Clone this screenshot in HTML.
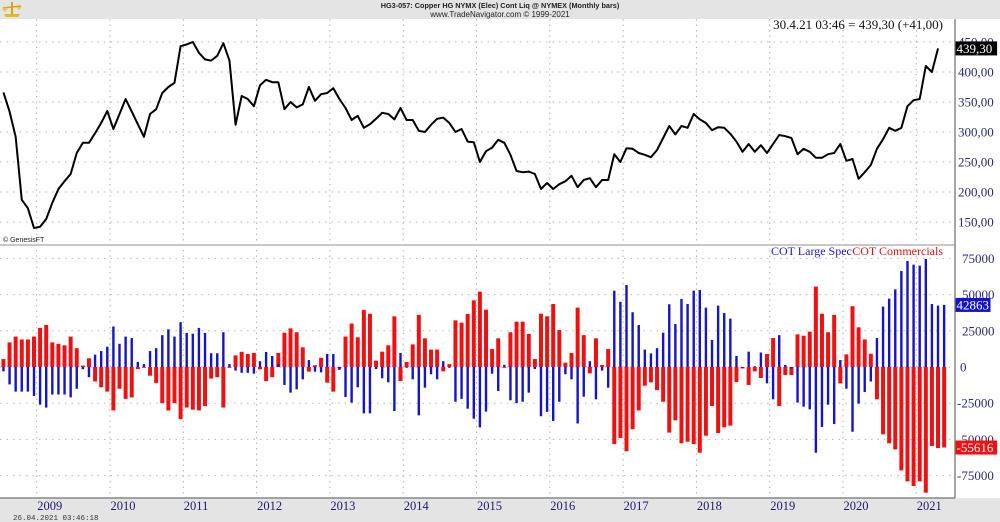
<!DOCTYPE html>
<html><head><meta charset="utf-8">
<style>
html,body{margin:0;padding:0;background:#fff;}
body{width:1000px;height:522px;overflow:hidden;position:relative;font-family:"Liberation Sans",sans-serif;}
svg{position:absolute;left:0;top:0;}
</style></head>
<body>
<svg id="chart" width="1000" height="522" viewBox="0 0 1000 522">
  <rect x="0" y="0" width="1000" height="19" fill="#e4e4e4"/>
  <rect x="0" y="498" width="1000" height="24" fill="#e4e4e4"/>
  <g>
    <path d="M4 14 L20 14 L18 17 L6 17 Z" fill="#e8b820"/>
    <rect x="11" y="2" width="2" height="12" fill="#d9a514"/>
    <path d="M3 8 L21 6" stroke="#d9a514" stroke-width="1.5"/>
    <path d="M2 9 L5 12 L8 9 Z M16 7 L19 10 L22 7 Z" fill="#f0c83a"/>
  </g>
  <text x="500" y="8" text-anchor="middle" font-size="7.3" font-weight="bold" fill="#222">HG3-057:  Copper HG NYMX (Elec) Cont Liq @ NYMEX  (Monthly bars)</text>
  <text x="500" y="17" text-anchor="middle" font-size="8" fill="#222">www.TradeNavigator.com © 1999-2021</text>
  <g id="grid"></g>
  <line x1="0" y1="245" x2="955" y2="245" stroke="#c8c8c8" stroke-width="2"/>
  <line x1="955" y1="19" x2="955" y2="498" stroke="#888" stroke-width="1.5"/>
  <line x1="0" y1="498" x2="955" y2="498" stroke="#888" stroke-width="1.5"/>
  <g id="bars"></g>
  <path id="priceLine" fill="none" stroke="#000" stroke-width="2" stroke-linejoin="round"/>
  <g id="axes"></g>
  <text x="943" y="29" text-anchor="end" font-family="Liberation Serif" font-size="13" fill="#111">30.4.21 03:46 = 439,30 (+41,00)</text>
  <text x="3" y="242" font-size="7" fill="#222">© GenesisFT</text>
  <text x="771" y="255" font-family="Liberation Serif" font-size="12" fill="#1a1acc">COT Large Spec</text>
  <text x="943" y="255" text-anchor="end" font-family="Liberation Serif" font-size="12" fill="#dd1111">COT Commercials</text>
  <text x="13" y="520" font-family="Liberation Mono" font-size="7.5" fill="#333">26.04.2021 03:46:18</text>
</svg>
<script>
const years = ["2009","2010","2011","2012","2013","2014","2015","2016","2017","2018","2019","2020","2021"];
const priceTicks = [150,200,250,300,350,400,450];
const cotTicks = [75000,50000,25000,0,-25000,-50000,-75000];
const prices = [366,334,292,187,173,140,142,155,182,205,218,230,265,282,282,298,315,335,305,330,
355,334,313,292,330,338,365,375,382,443,446,450,432,421,419,427,448,419,312,360,
355,343,378,387,383,383,338,350,341,346,375,352,363,365,373,355,340,320,327,307,
313,322,332,330,321,340,320,320,302,300,312,322,324,315,300,305,284,283,250,268,
274,287,282,262,235,233,234,230,205,215,205,213,218,227,208,220,223,208,220,220,
263,250,273,272,265,262,258,270,290,310,296,310,307,330,321,315,303,308,307,297,
284,267,280,267,278,265,280,295,293,290,263,272,267,257,257,263,265,280,252,255,
222,233,245,272,288,307,302,307,343,353,355,410,400,439.3];
const largeSpec = [-3,-12,-17,-17,-17,-20,-26,-28,-19,-19,-19,-21,-15,-1.5,-7,8.5,11,14,28,16,
21,20,3.5,2,11,13,22,26,21,31,23.5,23,27,23.5,9.5,9.5,24,2,-2.5,-4,
-4,-4.6,4,10.4,7.6,2,-12.4,-17.7,-15.4,-8.5,4.8,-3.2,-3.7,9,9,-2,-20.7,-24.6,-14,-32,
-32,-1.4,-7.8,-10.6,-30.4,9.7,0,-8.5,-33.4,-14.3,-5,-8.5,4,0,-24,-22,-28.8,-35.7,-41.7,-30.8,
-4.6,-16.6,1.5,-23,-25,-24,-17.7,-1.4,-34,-31,-37.3,-24,-5,-8.5,-39,-20.5,4,-22.3,-2.5,-14.3,
52.7,45,56.6,37.8,29,12,9.4,13,23.7,43.3,29.7,47,43.5,52.7,53.2,41,18.6,42.4,37.3,33.4,
7.6,0,10.6,0.5,10,-11.3,-22.3,22,1.4,-1,-24.6,-27.4,-29.2,-59.2,-41.4,-26,-39.4,4.8,-15,-44.7,
-25.3,-17.3,-10,20,41.7,47.2,53.6,66.3,73.2,70.7,70,74.6,43.5,42.4,42.863];
const commercials = [5.5,17,21,19,19,21,27,29,17,16,15,21,13,1,6,-10,-14,-17,-30,-15,
-22,-21,-1.5,0,-6,-11,-25,-30,-25,-36,-28,-29.5,-30,-27,-8,-7,-28,-0.5,8,10.5,
9,9.7,-1.6,-9.7,-7,9.7,23.7,26.7,24,13.6,-3.2,1.2,6.4,-10.8,-17,-1,21,30,20.5,39.4,
36.8,4.4,10.6,15,35,-9.7,3.5,15.6,36,19.8,12,12,-3,2,32.2,30.6,36.6,46,52,39.6,
12.4,19.8,0,24,31.3,31.3,22.8,5.5,36.8,35,43.5,25.5,3,9.7,41,22,-4.4,19.8,1.4,12.4,
-53.2,-49,-58.2,-43,-30,-12.9,-10.6,-16,-24,-45.3,-36.8,-52.7,-51.6,-53.2,-59.2,-47.4,-27,-45.6,-41.7,-40.5,
-10.4,-1,-12.4,-3,-7.6,9,20,-27,-5.5,-5.5,22.5,21.6,24.4,55.5,36.8,24,36,-11.3,8.7,42,
27.4,19,9.2,-22.3,-46.5,-52.7,-56.9,-71.4,-79,-82.2,-79,-86.8,-54.6,-56,-55.616];

const NS="http://www.w3.org/2000/svg";
const MONTH = 73.3/12;
function xAt(i){ return 3.45 + i*MONTH; }
function yearX(k){ return 36.7 + k*73.3; }
function yPrice(v){ return 42 + (450 - v)*0.6; }
function yCot(v){ return 367 - v/25000*36.2; }
function el(tag, attrs, parent){ const e=document.createElementNS(NS,tag); for(const k in attrs) e.setAttribute(k, attrs[k]); parent.appendChild(e); return e; }

const grid=document.getElementById('grid'), axes=document.getElementById('axes'), bars=document.getElementById('bars');
years.forEach((y,k)=>{
  const x=yearX(k);
  const g=el('line',{x1:x,y1:19,x2:x,y2:498,stroke:'#b0b0b0','stroke-dasharray':'1.5,4'},grid);
  
  
  const t=el('text',{x:x+0.5,y:510,'font-family':'Liberation Serif','font-size':'12.5',fill:'#1a1a6e'},axes);
  t.textContent=y;
  
  
});
priceTicks.forEach(v=>{
  const y=yPrice(v);
  const g=el('line',{x1:0,y1:y,x2:955,y2:y,stroke:'#b8b8b8','stroke-dasharray':'1.5,5'},grid);
  
  
  const t=el('text',{x:958,y:y+4.5,'font-family':'Liberation Serif','font-size':'13',fill:'#2a2a7a'},axes);
  t.textContent=v.toFixed(2).replace('.',',');
  
  
});
cotTicks.forEach(v=>{
  const y=yCot(v);
  const g=el('line',{x1:0,y1:y,x2:955,y2:y,stroke:'#b8b8b8','stroke-dasharray':'1.5,5'},grid);
  
  
  const t=el('text',{x:v<0?957:(v===0?960:962),y:y+4.5,'font-family':'Liberation Serif','font-size':'13',fill:'#2a2a7a'},axes);
  t.textContent=String(v);
  
  
});
const y0=yCot(0);
commercials.forEach((v,i)=>{
  const y=yCot(v*1000);
  const r=el('rect',{x:xAt(i)-2,y:Math.min(y,y0),width:4,height:Math.max(0.8,Math.abs(y-y0)),fill:'#ee1111'},bars);
  
  
});
largeSpec.forEach((v,i)=>{
  const y=yCot(v*1000);
  const r=el('rect',{x:xAt(i)-1.2,y:Math.min(y,y0),width:2.4,height:Math.max(0.8,Math.abs(y-y0)),fill:'#1414c8'},bars);
  
  
});
document.getElementById('priceLine').setAttribute('d', prices.map((v,i)=>(i?'L':'M')+xAt(i).toFixed(2)+' '+yPrice(v).toFixed(2)).join(' '));

function tag(val, y, bg, name){
  const r=el('rect',{x:955.5,y:y-7,width:String(val).length*6.6+2,height:14,fill:bg},axes);
  
  
  const t=el('text',{x:956.5,y:y+4.5,'font-family':'Liberation Serif','font-size':'13',fill:'#fff'},axes);
  t.textContent=val;
  
  
}
tag('439,30', yPrice(prices[prices.length-1]), '#000', 'last-price-tag');
tag(String(Math.round(largeSpec[largeSpec.length-1]*1000)), yCot(largeSpec[largeSpec.length-1]*1000), '#1414c8', 'last-large-spec-tag');
tag(String(Math.round(commercials[commercials.length-1]*1000)), yCot(commercials[commercials.length-1]*1000), '#ee1111', 'last-commercials-tag');
</script>
</body></html>
